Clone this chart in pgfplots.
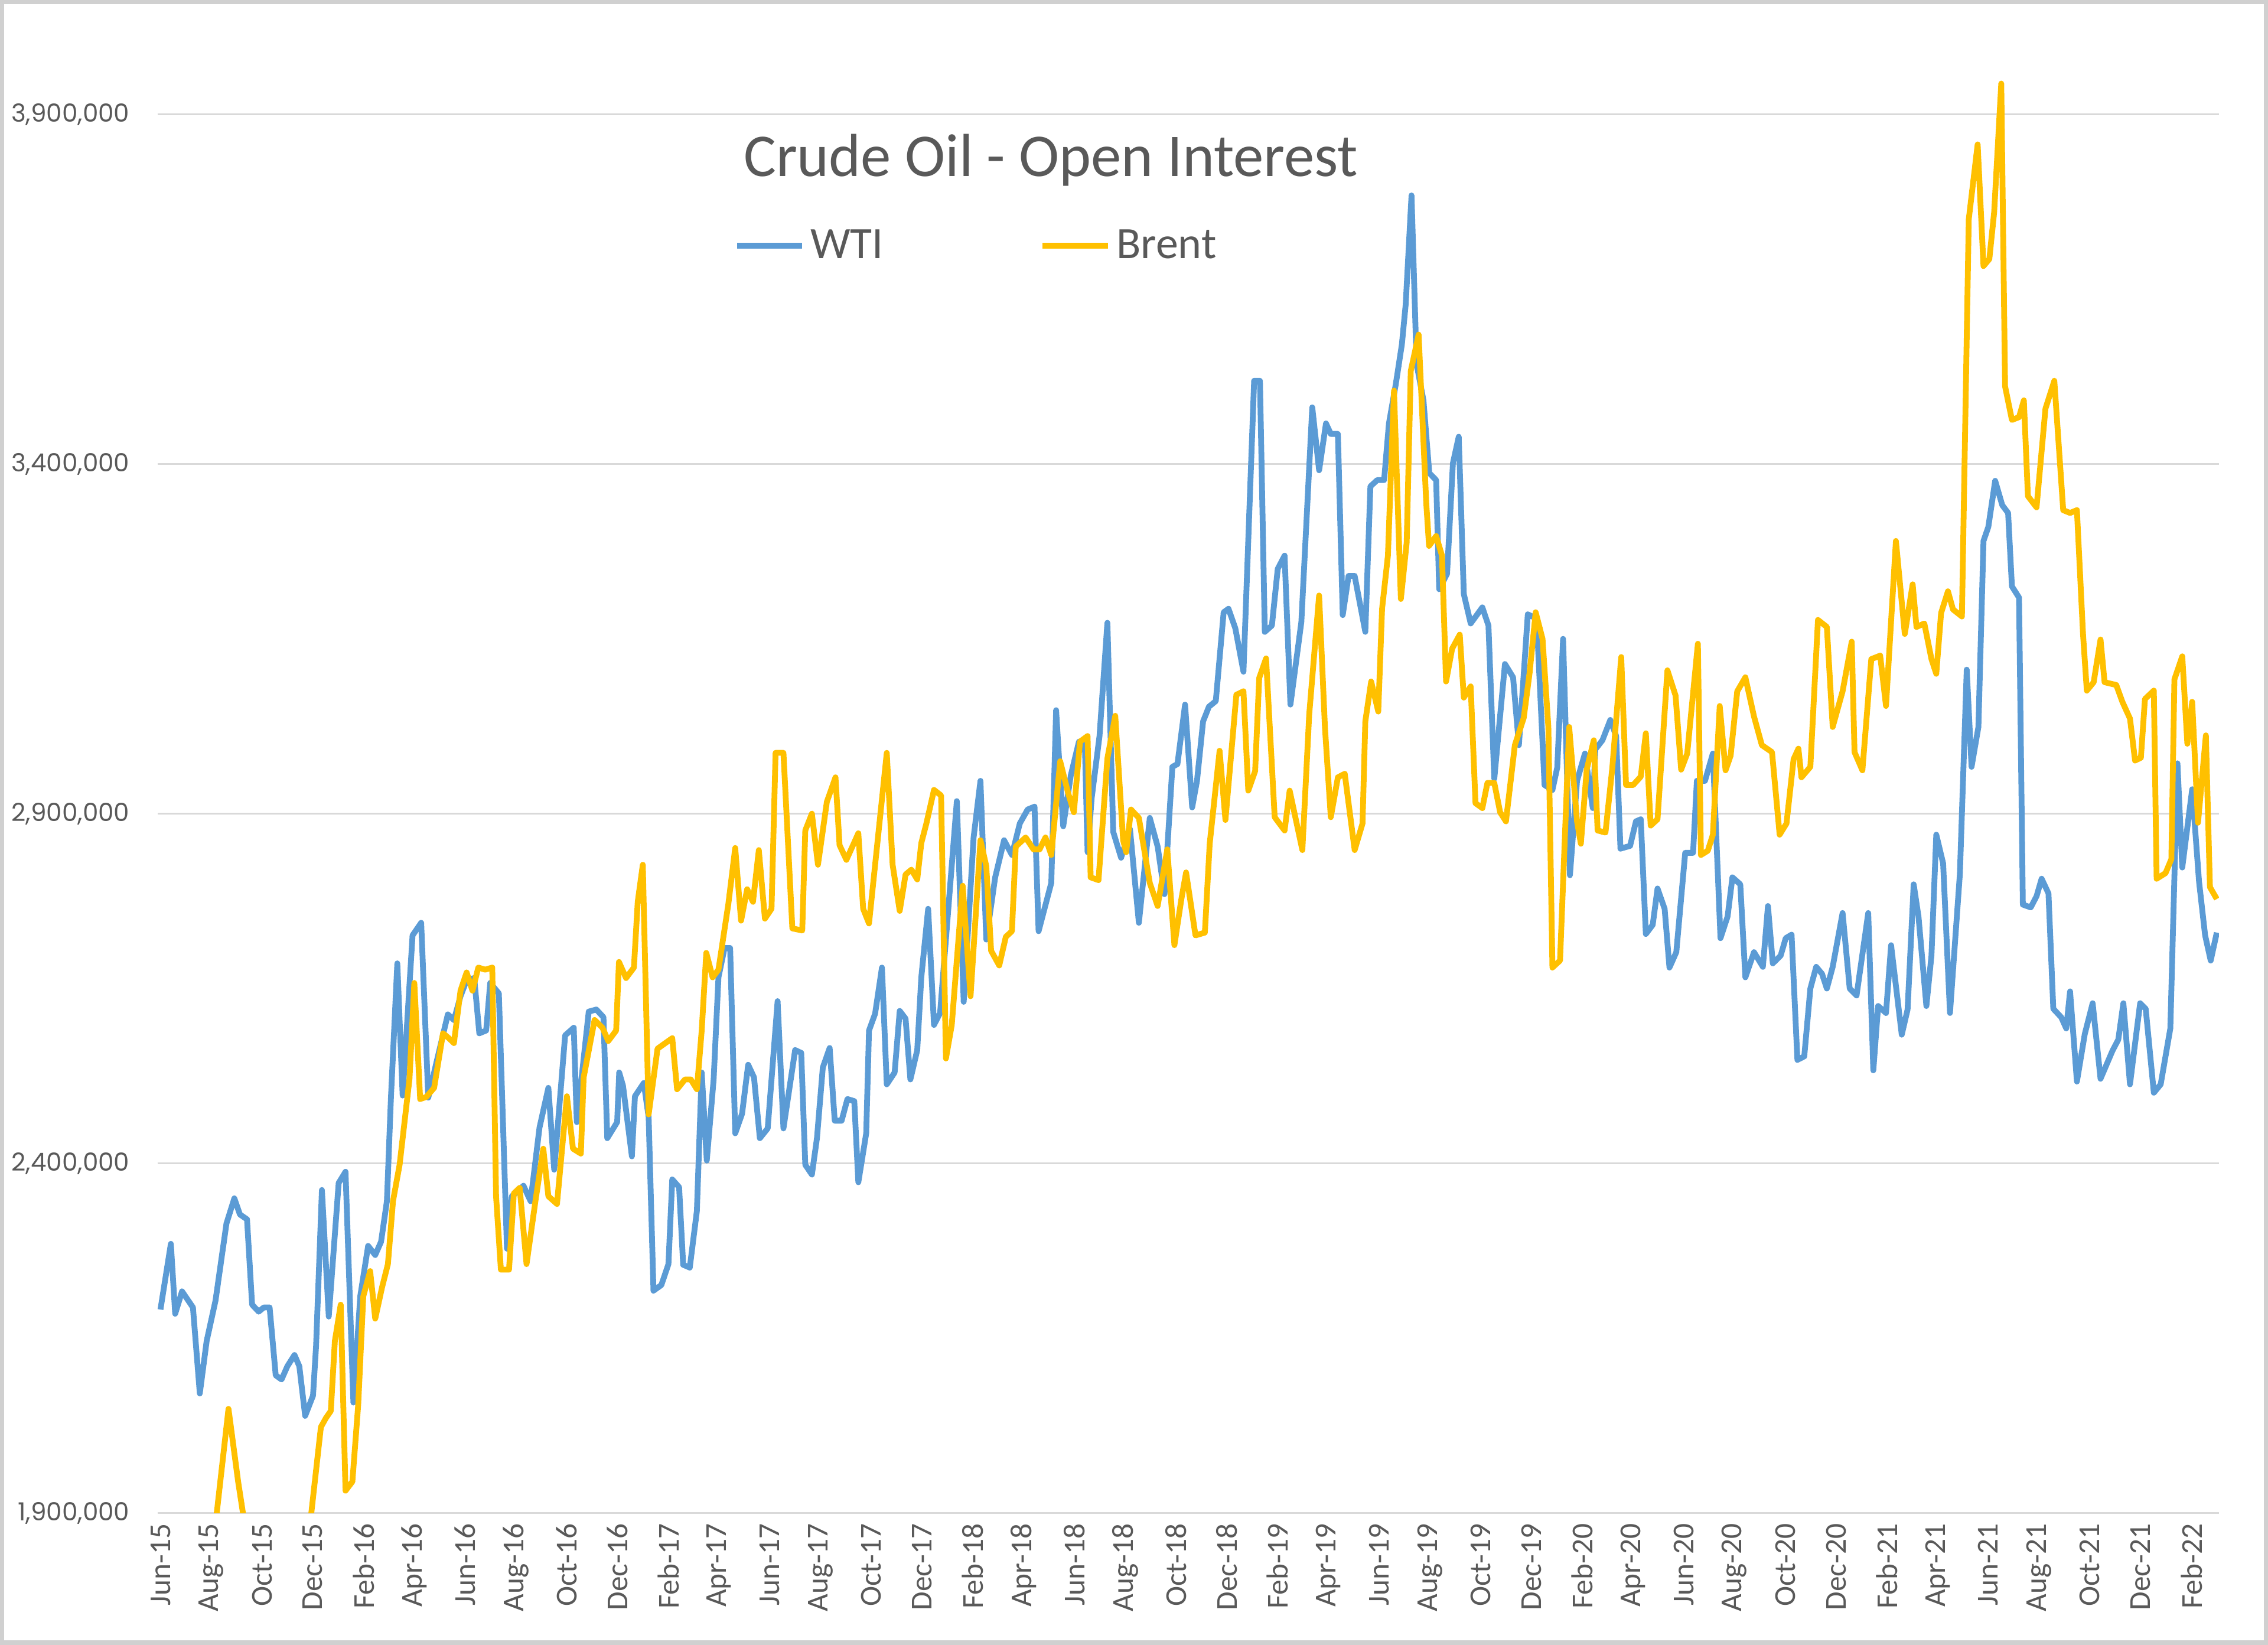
\documentclass[border=0pt]{standalone}
\usepackage{fontspec}
\setmainfont{Carlito}
\newfontfamily\ylabfont{Poppins}
\usepackage{pgfplots}
\usepackage{pgfplotstable}
\pgfplotsset{compat=1.18}

\definecolor{wti}{HTML}{5B9BD5}
\definecolor{brent}{HTML}{FFC000}
\definecolor{txt}{HTML}{595959}
\definecolor{gridc}{HTML}{D9D9D9}
\definecolor{framec}{HTML}{D0D0D0}

% open interest, x = months since Jun 2015
\pgfplotstableread{
m oi
0.00 2191000
0.41 2285000
0.58 2185000
0.85 2217000
1.28 2194000
1.55 2071000
1.82 2146000
2.17 2204000
2.60 2314000
2.91 2350000
3.13 2327000
3.41 2320000
3.61 2198000
3.87 2188000
4.07 2194000
4.30 2194000
4.54 2097000
4.77 2091000
5.00 2110000
5.28 2126000
5.47 2110000
5.70 2039000
6.01 2068000
6.13 2139000
6.36 2362000
6.63 2181000
7.02 2372000
7.29 2388000
7.60 2058000
7.87 2210000
8.18 2282000
8.46 2269000
8.69 2288000
8.92 2346000
9.08 2495000
9.33 2686000
9.54 2497000
9.93 2726000
10.27 2744000
10.55 2494000
10.85 2541000
11.32 2613000
11.56 2605000
11.82 2639000
12.06 2662000
12.36 2665000
12.56 2586000
12.83 2590000
12.99 2658000
13.33 2643000
13.65 2278000
13.84 2353000
14.30 2368000
14.58 2346000
14.93 2451000
15.28 2508000
15.51 2391000
15.94 2583000
16.28 2594000
16.40 2459000
16.87 2617000
17.17 2620000
17.45 2609000
17.60 2436000
17.99 2459000
18.07 2530000
18.22 2511000
18.57 2410000
18.69 2496000
19.04 2515000
19.23 2466000
19.42 2218000
19.73 2226000
20.01 2256000
20.16 2377000
20.43 2366000
20.59 2255000
20.85 2251000
21.13 2332000
21.32 2530000
21.52 2404000
21.79 2520000
21.98 2666000
22.22 2708000
22.44 2708000
22.64 2443000
22.91 2471000
23.15 2541000
23.38 2523000
23.61 2436000
23.92 2450000
24.31 2632000
24.54 2450000
25.00 2562000
25.24 2558000
25.40 2398000
25.66 2384000
25.86 2436000
26.09 2537000
26.36 2565000
26.56 2461000
26.83 2461000
27.06 2492000
27.33 2489000
27.49 2373000
27.80 2443000
27.91 2590000
28.15 2614000
28.42 2680000
28.61 2513000
28.92 2530000
29.12 2618000
29.35 2607000
29.54 2520000
29.81 2562000
29.97 2666000
30.24 2764000
30.47 2598000
30.71 2615000
31.37 2918000
31.64 2631000
32.03 2866000
32.30 2947000
32.53 2720000
32.88 2809000
33.23 2862000
33.54 2841000
33.85 2886000
34.16 2906000
34.43 2910000
34.59 2732000
35.09 2801000
35.28 3048000
35.56 2882000
35.86 2955000
36.18 3003000
36.41 3003000
36.52 2845000
36.68 2922000
36.99 3011000
37.30 3173000
37.53 2874000
37.84 2837000
38.19 2878000
38.54 2744000
38.97 2894000
39.28 2853000
39.55 2785000
39.86 2967000
40.06 2971000
40.36 3056000
40.64 2909000
40.83 2947000
41.07 3032000
41.30 3053000
41.57 3061000
41.88 3188000
42.07 3193000
42.34 3165000
42.66 3103000
43.08 3519000
43.31 3519000
43.50 3160000
43.78 3169000
44.01 3250000
44.28 3269000
44.51 3056000
44.94 3174000
45.37 3481000
45.64 3391000
45.91 3458000
46.10 3443000
46.38 3443000
46.57 3184000
46.80 3240000
47.04 3240000
47.46 3160000
47.66 3368000
47.93 3377000
48.20 3377000
48.39 3458000
48.66 3514000
48.90 3571000
49.05 3628000
49.28 3784000
49.48 3543000
49.75 3491000
49.98 3387000
50.25 3377000
50.37 3221000
50.68 3243000
50.91 3401000
51.14 3439000
51.34 3214000
51.61 3172000
52.07 3195000
52.31 3169000
52.54 2950000
52.96 3114000
53.28 3095000
53.51 2998000
53.86 3185000
54.21 3179000
54.52 2941000
54.83 2934000
55.02 2966000
55.25 3150000
55.52 2812000
55.80 2947000
56.11 2986000
56.42 2908000
56.52 2992000
56.80 3005000
57.11 3034000
57.34 3011000
57.51 2850000
57.89 2854000
58.12 2889000
58.31 2892000
58.51 2728000
58.78 2741000
58.97 2793000
59.25 2764000
59.44 2680000
59.71 2702000
60.06 2844000
60.37 2844000
60.52 2947000
60.84 2947000
61.15 2986000
61.45 2722000
61.73 2753000
61.92 2809000
62.23 2799000
62.43 2666000
62.77 2702000
63.12 2681000
63.32 2768000
63.51 2686000
63.82 2697000
64.02 2722000
64.25 2727000
64.48 2548000
64.75 2553000
64.99 2650000
65.22 2681000
65.45 2671000
65.64 2650000
65.87 2681000
66.26 2758000
66.54 2650000
66.81 2640000
67.27 2758000
67.47 2533000
67.66 2625000
67.97 2615000
68.17 2712000
68.59 2584000
68.82 2620000
69.06 2799000
69.25 2753000
69.56 2625000
69.76 2697000
69.95 2870000
70.22 2829000
70.49 2615000
70.88 2814000
71.15 3106000
71.34 2967000
71.61 3024000
71.81 3290000
72.00 3310000
72.27 3376000
72.55 3341000
72.78 3330000
72.93 3225000
73.21 3209000
73.36 2770000
73.67 2766000
73.90 2782000
74.10 2807000
74.37 2786000
74.56 2621000
74.87 2609000
75.07 2593000
75.22 2646000
75.49 2517000
75.80 2585000
76.11 2629000
76.42 2521000
76.89 2561000
77.12 2577000
77.32 2629000
77.58 2513000
77.98 2629000
78.20 2621000
78.52 2501000
78.79 2513000
79.17 2593000
79.45 2972000
79.64 2823000
80.03 2935000
80.30 2803000
80.54 2726000
80.76 2690000
81.00 2730000
}\wtidata

\pgfplotstableread{
m oi
0.00 1820000
1.00 1800000
2.00 1830000
2.68 2049000
3.06 1945000
3.25 1900000
3.40 1860000
4.50 1820000
5.50 1830000
5.85 1870000
6.32 2023000
6.52 2036000
6.71 2046000
6.87 2146000
7.10 2198000
7.29 1932000
7.56 1945000
7.79 2055000
7.99 2210000
8.26 2246000
8.46 2178000
8.73 2223000
8.96 2256000
9.16 2346000
9.42 2398000
9.81 2521000
10.00 2658000
10.23 2492000
10.47 2495000
10.78 2508000
11.13 2586000
11.36 2579000
11.56 2572000
11.82 2647000
12.06 2673000
12.29 2647000
12.52 2680000
12.79 2677000
13.07 2680000
13.22 2353000
13.41 2248000
13.73 2248000
13.92 2357000
14.15 2365000
14.42 2256000
14.77 2346000
15.08 2421000
15.28 2353000
15.62 2342000
16.01 2496000
16.25 2421000
16.56 2414000
16.67 2523000
17.10 2605000
17.41 2594000
17.64 2575000
17.95 2590000
18.06 2688000
18.34 2665000
18.65 2680000
18.80 2774000
19.00 2827000
19.23 2470000
19.58 2564000
19.81 2570000
20.16 2579000
20.35 2506000
20.66 2520000
20.89 2520000
21.13 2506000
21.32 2590000
21.50 2701000
21.75 2666000
21.98 2677000
22.37 2771000
22.64 2851000
22.87 2747000
23.11 2792000
23.34 2774000
23.57 2848000
23.81 2750000
24.07 2764000
24.23 2987000
24.54 2987000
24.89 2736000
25.28 2733000
25.40 2876000
25.66 2900000
25.90 2827000
26.25 2917000
26.59 2952000
26.75 2855000
27.02 2834000
27.49 2872000
27.68 2764000
27.91 2743000
28.61 2987000
28.84 2827000
29.12 2761000
29.35 2813000
29.58 2820000
29.81 2806000
29.97 2858000
30.17 2886000
30.47 2934000
30.75 2926000
30.94 2550000
31.17 2598000
31.60 2797000
31.91 2639000
32.30 2862000
32.53 2825000
32.72 2704000
33.04 2683000
33.30 2724000
33.54 2732000
33.69 2853000
34.08 2866000
34.39 2849000
34.63 2849000
34.86 2866000
35.09 2841000
35.44 2975000
35.75 2930000
35.98 2902000
36.22 3003000
36.52 3011000
36.64 2809000
36.95 2805000
37.30 2979000
37.61 3040000
37.92 2862000
38.04 2845000
38.23 2906000
38.54 2894000
38.97 2801000
39.28 2768000
39.66 2849000
39.94 2712000
40.21 2777000
40.40 2816000
40.77 2726000
41.14 2730000
41.33 2857000
41.72 2990000
41.95 2891000
42.38 3070000
42.66 3075000
42.85 2933000
43.12 2961000
43.28 3094000
43.55 3122000
43.89 2895000
44.28 2876000
44.48 2933000
44.98 2848000
45.25 3042000
45.64 3212000
45.87 3023000
46.10 2895000
46.38 2952000
46.65 2957000
47.04 2848000
47.35 2886000
47.46 3032000
47.69 3089000
47.97 3046000
48.12 3193000
48.35 3269000
48.59 3505000
48.86 3207000
49.09 3288000
49.25 3533000
49.56 3585000
49.86 3344000
49.97 3283000
50.25 3297000
50.48 3269000
50.64 3089000
50.88 3136000
51.18 3156000
51.34 3066000
51.61 3082000
51.80 2915000
52.07 2908000
52.27 2944000
52.54 2944000
52.77 2902000
53.00 2889000
53.35 2998000
53.70 3037000
53.93 3101000
54.17 3188000
54.44 3150000
54.67 3024000
54.83 2680000
55.13 2690000
55.49 3024000
55.80 2889000
55.95 2857000
56.18 2963000
56.46 3005000
56.61 2876000
56.92 2873000
57.19 2966000
57.54 3124000
57.73 2941000
58.01 2941000
58.31 2953000
58.51 3015000
58.70 2883000
58.97 2892000
59.36 3105000
59.68 3069000
59.90 2963000
60.14 2986000
60.56 3143000
60.68 2841000
60.95 2847000
61.15 2870000
61.42 3054000
61.65 2962000
61.85 2983000
62.11 3075000
62.43 3095000
62.77 3039000
63.08 2998000
63.48 2988000
63.78 2870000
64.05 2886000
64.33 2978000
64.52 2993000
64.64 2952000
64.99 2967000
65.29 3177000
65.64 3167000
65.87 3024000
66.26 3075000
66.62 3146000
66.73 2988000
67.04 2962000
67.39 3121000
67.74 3126000
67.97 3054000
68.36 3290000
68.71 3157000
69.02 3228000
69.17 3167000
69.48 3172000
69.76 3121000
69.95 3100000
70.14 3187000
70.41 3218000
70.61 3192000
70.96 3182000
71.23 3750000
71.58 3857000
71.81 3683000
72.04 3693000
72.23 3760000
72.51 3944000
72.66 3511000
72.93 3463000
73.21 3467000
73.40 3491000
73.56 3354000
73.90 3338000
74.25 3479000
74.60 3519000
74.95 3334000
75.22 3330000
75.49 3334000
75.73 3157000
75.88 3076000
76.15 3088000
76.42 3149000
76.58 3088000
77.04 3084000
77.28 3060000
77.58 3036000
77.78 2976000
78.01 2980000
78.17 3064000
78.52 3076000
78.63 2807000
78.98 2815000
79.21 2835000
79.33 3092000
79.64 3125000
79.84 3000000
80.03 3060000
80.26 2887000
80.57 3012000
80.73 2795000
81.00 2778000
}\brentdata

\begin{document}
\begin{tikzpicture}
\useasboundingbox (0,0) rectangle (784pt,568.5pt);
\draw[framec, line width=1.5pt] (0.75pt,0.75pt) rectangle (783.25pt,567.75pt);
\begin{axis}[
  at={(54.5pt,45.5pt)}, anchor=south west,
  scale only axis,
  width=712.5pt, height=519.75pt,
  xmin=-0.11, xmax=81.08,
  ymin=1900000, ymax=4050000,
  axis line style={draw=none},
  major tick length=0pt,
  xtick={0,2,...,80},
  xticklabels={Jun-15,Aug-15,Oct-15,Dec-15,
    Feb-16,Apr-16,Jun-16,Aug-16,Oct-16,Dec-16,
    Feb-17,Apr-17,Jun-17,Aug-17,Oct-17,Dec-17,
    Feb-18,Apr-18,Jun-18,Aug-18,Oct-18,Dec-18,
    Feb-19,Apr-19,Jun-19,Aug-19,Oct-19,Dec-19,
    Feb-20,Apr-20,Jun-20,Aug-20,Oct-20,Dec-20,
    Feb-21,Apr-21,Jun-21,Aug-21,Oct-21,Dec-21,
    Feb-22},
  xticklabel style={rotate=90, anchor=east, inner sep=3.5pt,
    font=\fontsize{10.5}{12}\selectfont, text=txt},
  ytick={1900000,2400000,2900000,3400000,3900000},
  yticklabels={{1,900,000},{2,400,000},{2,900,000},{3,400,000},{3,900,000}},
  scaled y ticks=false,
  yticklabel style={anchor=east, inner xsep=9.5pt, inner ysep=0pt,
    font=\ylabfont\fontsize{8.6}{10}\selectfont, text=txt},
  ymajorgrids,
  grid style={draw=gridc, line width=0.75pt},
  legend columns=2,
  legend cell align=left,
  legend style={at={(axis description cs:0.2793,0.8427)}, anchor=west,
    draw=none, fill=none, inner sep=0pt,
    font=\fontsize{15.5}{18}\selectfont, text=txt,
    nodes={inner sep=2pt},
    /tikz/every even column/.append style={column sep=52pt}},
  legend image code/.code={\draw[#1] (0pt,0pt) -- (22.5pt,0pt);},
]
\addplot[wti, line width=2pt, line join=round] table[x=m, y=oi] {\wtidata};
\addlegendentry{WTI}
\addplot[brent, line width=2pt, line join=round] table[x=m, y=oi] {\brentdata};
\addlegendentry{Brent}
\end{axis}
\node[anchor=base, font=\fontsize{21}{25}\selectfont, text=txt]
  at (363.25pt,507.5pt) {Crude Oil - Open Interest};
\end{tikzpicture}
\end{document}
